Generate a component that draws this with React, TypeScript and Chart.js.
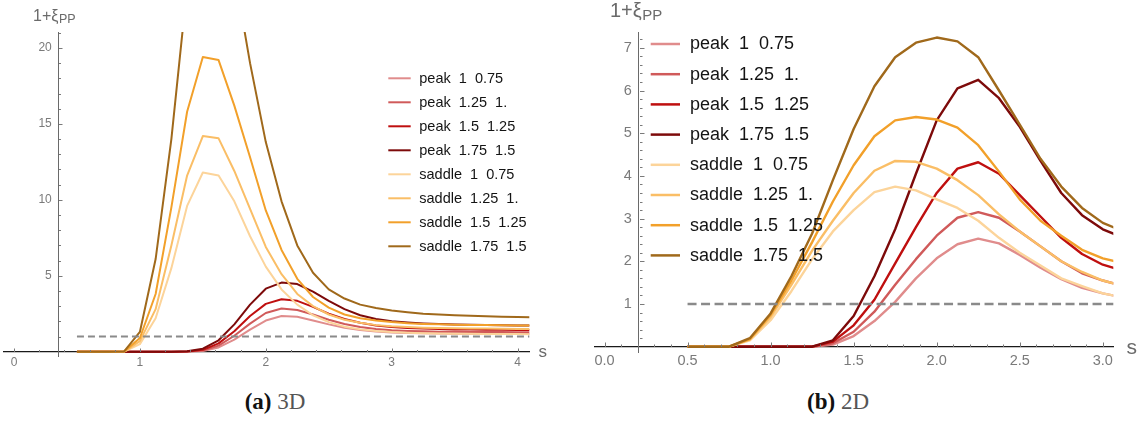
import React, { useEffect, useRef } from "react";
import { Chart, registerables } from "chart.js";

Chart.register(...registerables);

// ---------------- data ----------------
const LABELS = [
  "peak  1  0.75",
  "peak  1.25  1.",
  "peak  1.5  1.25",
  "peak  1.75  1.5",
  "saddle  1  0.75",
  "saddle  1.25  1.",
  "saddle  1.5  1.25",
  "saddle  1.75  1.5",
];

const COLORS = [
  "#e08c8c",
  "#d05a5a",
  "#bf0f0f",
  "#7d0a0a",
  "#fcd49a",
  "#fabe66",
  "#f2a02a",
  "#a0691b",
];

// 3D panel
const S_3D = [0.5, 0.625, 0.75, 0.875, 1, 1.125, 1.25, 1.375, 1.5, 1.625, 1.75, 1.875, 2, 2.125, 2.25, 2.375, 2.5, 2.625, 2.75, 2.875, 3, 3.125, 3.25, 3.375, 3.5, 3.625, 3.75, 3.875, 4, 4.125];
const PEAK_1_3D = [0, 0, 0, 0, 0, 0, 0, 0.01, 0.05, 0.28, 0.8, 1.45, 2.05, 2.35, 2.3, 2.05, 1.8, 1.58, 1.43, 1.33, 1.27, 1.23, 1.21, 1.2, 1.19, 1.18, 1.18, 1.17, 1.17, 1.17];
const PEAK_125_3D = [0, 0, 0, 0, 0, 0, 0, 0.01, 0.08, 0.4, 1.05, 1.85, 2.55, 2.85, 2.75, 2.45, 2.1, 1.82, 1.63, 1.5, 1.42, 1.37, 1.34, 1.32, 1.31, 1.3, 1.29, 1.29, 1.28, 1.28];
const PEAK_15_3D = [0, 0, 0, 0, 0, 0, 0, 0.02, 0.12, 0.55, 1.35, 2.35, 3.15, 3.45, 3.35, 2.95, 2.5, 2.15, 1.9, 1.73, 1.63, 1.56, 1.52, 1.49, 1.47, 1.46, 1.45, 1.44, 1.43, 1.43];
const PEAK_175_3D = [0, 0, 0, 0, 0, 0, 0, 0.03, 0.2, 0.75, 1.8, 3.1, 4.15, 4.55, 4.45, 3.95, 3.35, 2.8, 2.4, 2.15, 2.0, 1.92, 1.86, 1.82, 1.79, 1.77, 1.75, 1.74, 1.73, 1.72];
const SADDLE_1_3D = [0, 0, 0, 0.01, 0.5, 2.2, 5.5, 9.6, 11.8, 11.6, 9.9, 7.6, 5.6, 4.1, 3.1, 2.4, 1.95, 1.65, 1.47, 1.36, 1.29, 1.25, 1.22, 1.2, 1.19, 1.18, 1.17, 1.16, 1.16, 1.15];
const SADDLE_125_3D = [0, 0, 0, 0.01, 0.7, 2.8, 7.0, 11.6, 14.2, 14.05, 11.9, 9.4, 6.9, 5.1, 3.8, 3.0, 2.45, 2.1, 1.9, 1.75, 1.67, 1.62, 1.58, 1.56, 1.54, 1.53, 1.52, 1.51, 1.5, 1.5];
const SADDLE_15_3D = [0, 0, 0, 0.02, 0.9, 3.8, 9.5, 15.8, 19.4, 19.2, 16.2, 12.8, 9.3, 6.7, 4.8, 3.6, 2.9, 2.45, 2.2, 2.05, 1.95, 1.88, 1.83, 1.8, 1.78, 1.76, 1.75, 1.74, 1.73, 1.72];
const SADDLE_175_3D = [0, 0, 0, 0.02, 1.3, 6.1, 14, 24, 29, 29, 25, 19, 13.8, 9.9, 7.0, 5.2, 4.1, 3.5, 3.1, 2.88, 2.72, 2.6, 2.5, 2.45, 2.4, 2.37, 2.33, 2.3, 2.28, 2.27];

// 2D panel
const S_2D = [0.5, 0.625, 0.75, 0.875, 1, 1.125, 1.25, 1.375, 1.5, 1.625, 1.75, 1.875, 2, 2.125, 2.25, 2.375, 2.5, 2.625, 2.75, 2.875, 3, 3.125];
const PEAK_1_2D = [0, 0, 0, 0, 0, 0, 0, 0.05, 0.25, 0.6, 1.05, 1.6, 2.07, 2.4, 2.53, 2.42, 2.15, 1.85, 1.58, 1.38, 1.25, 1.15];
const PEAK_125_2D = [0, 0, 0, 0, 0, 0, 0, 0.08, 0.35, 0.82, 1.45, 2.05, 2.6, 3.02, 3.15, 3.02, 2.7, 2.35, 2.0, 1.72, 1.55, 1.42];
const PEAK_15_2D = [0, 0, 0, 0, 0, 0, 0, 0.12, 0.5, 1.1, 1.95, 2.8, 3.6, 4.17, 4.32, 4.05, 3.55, 3.05, 2.55, 2.17, 1.92, 1.78];
const PEAK_175_2D = [0, 0, 0, 0, 0, 0, 0, 0.15, 0.72, 1.65, 2.75, 4.05, 5.3, 6.05, 6.25, 5.82, 5.15, 4.35, 3.6, 3.08, 2.75, 2.55];
const SADDLE_1_2D = [0, 0, 0, 0.15, 0.62, 1.3, 2.05, 2.7, 3.2, 3.62, 3.75, 3.66, 3.45, 3.25, 2.95, 2.55, 2.2, 1.9, 1.6, 1.42, 1.25, 1.15];
const SADDLE_125_2D = [0, 0, 0, 0.17, 0.7, 1.45, 2.25, 2.95, 3.6, 4.12, 4.35, 4.33, 4.17, 3.9, 3.55, 3.1, 2.7, 2.35, 2.0, 1.75, 1.55, 1.42];
const SADDLE_15_2D = [0, 0, 0, 0.18, 0.75, 1.55, 2.45, 3.4, 4.25, 4.93, 5.3, 5.38, 5.32, 5.13, 4.72, 4.1, 3.45, 2.95, 2.6, 2.27, 2.07, 1.95];
const SADDLE_175_2D = [0, 0, 0, 0.2, 0.78, 1.65, 2.65, 3.9, 5.1, 6.1, 6.78, 7.12, 7.24, 7.15, 6.78, 6.0, 5.2, 4.4, 3.75, 3.25, 2.9, 2.7];

const REF_LEVEL = 1;

const X_TICKS_3D = [0, 1, 2, 3, 4];
const Y_TICKS_3D = [5, 10, 15, 20];
const X_TICKS_2D = [0, 0.5, 1, 1.5, 2, 2.5, 3];
const Y_TICKS_2D = [1, 2, 3, 4, 5, 6, 7];

// ---------------- panel configs ----------------
const SANS = '"Liberation Sans", Arial, sans-serif';
const TICK_COLOR = "#7a7a7a";
const LABEL_COLOR = "#6a6a6a";

const PANEL_A = {
  left: 0,
  width: 575,
  height: 380,
  xs: S_3D,
  series: [PEAK_1_3D, PEAK_125_3D, PEAK_15_3D, PEAK_175_3D, SADDLE_1_3D, SADDLE_125_3D, SADDLE_15_3D, SADDLE_175_3D],
  xTicks: X_TICKS_3D,
  yTicks: Y_TICKS_3D,
  xFmt: (v: number) => String(v),
  yGap: "  ",
  xMin: -0.0794,
  xMax: 4.093,
  yMin: -0.283,
  yMax: 21.05,
  area: { left: 4, top: 32, right: 529.3, bottom: 356 },
  yAxisAt: 0.353,
  tickFont: 12,
  tickPad: 4,
  lineW: 2,
  dash: [7, 4],
  dashW: 2,
  xMinor: { step: 0.2, count: 20, every: 5 },
  yMinor: { step: 1, count: 21, every: 5 },
  majorLen: 3.5,
  minorLen: 2,
  legend: { x0: 388.3, x1: 410.7, tx: 419.3, y: 78.3, dy: 24, font: 14.5, w: 2 },
  label: { x: 33, base: 21, font: 16, subFont: 12.5, subDy: 1.5 },
  sLabel: { x: 542.7, y: 352, font: 17 },
};

const PANEL_B = {
  left: 575,
  width: 571,
  height: 380,
  xs: S_2D,
  series: [PEAK_1_2D, PEAK_125_2D, PEAK_15_2D, PEAK_175_2D, SADDLE_1_2D, SADDLE_125_2D, SADDLE_15_2D, SADDLE_175_2D],
  xTicks: X_TICKS_2D,
  yTicks: Y_TICKS_2D,
  xFmt: (v: number) => v.toFixed(1),
  yGap: " \u2009",
  xMin: -0.0572,
  xMax: 3.0632,
  yMin: -0.131,
  yMax: 7.363,
  area: { left: 20, top: 32.3, right: 538.3, bottom: 352.3 },
  yAxisAt: 0.206,
  tickFont: 14.5,
  tickPad: 5.3,
  lineW: 2.4,
  dash: [9, 4.5],
  dashW: 2.5,
  xMinor: { step: 0.1, count: 30, every: 5 },
  yMinor: { step: 0.2, count: 36, every: 5 },
  majorLen: 4.5,
  minorLen: 2.5,
  legend: { x0: 75.7, x1: 105, tx: 115, y: 44, dy: 30.2, font: 18, w: 2.5 },
  label: { x: 35, base: 17, font: 20, subFont: 15, subDy: 3 },
  sLabel: { x: 556.7, y: 348.3, font: 21 },
};

function makeDecor(p: any) {
  return {
    id: "decor",
    afterDraw(chart: any) {
      const ctx = chart.ctx;
      const xs = chart.scales.x;
      const ys = chart.scales.y;
      const ax = Math.round(xs.getPixelForValue(p.yAxisAt)) + 0.5;
      const ay = Math.round(ys.getPixelForValue(0)) + 0.5;
      ctx.save();
      // tick marks (inward, Mathematica style)
      ctx.strokeStyle = TICK_COLOR;
      ctx.lineWidth = 1;
      ctx.beginPath();
      for (let i = 0; i <= p.xMinor.count; i++) {
        const t = i * p.xMinor.step;
        const px = Math.round(xs.getPixelForValue(t)) + 0.5;
        const len = i % p.xMinor.every === 0 ? p.majorLen : p.minorLen;
        ctx.moveTo(px, ay - 0.5);
        ctx.lineTo(px, ay - 0.5 - len);
      }
      for (let i = 1; i <= p.yMinor.count; i++) {
        const t = i * p.yMinor.step;
        if (t > p.yMax) break;
        const py = Math.round(ys.getPixelForValue(t)) + 0.5;
        const len = i % p.yMinor.every === 0 ? p.majorLen : p.minorLen;
        ctx.moveTo(ax + 0.5, py);
        ctx.lineTo(ax + 0.5 + len, py);
      }
      ctx.stroke();

      // legend
      const L = p.legend;
      ctx.textBaseline = "middle";
      ctx.textAlign = "left";
      ctx.font = `${L.font}px ${SANS}`;
      for (let i = 0; i < LABELS.length; i++) {
        const ds = chart.data.datasets[i];
        const y = L.y + i * L.dy;
        ctx.strokeStyle = ds.borderColor;
        ctx.lineWidth = L.w;
        ctx.beginPath();
        ctx.moveTo(L.x0, y);
        ctx.lineTo(L.x1, y);
        ctx.stroke();
        ctx.fillStyle = "#141414";
        ctx.fillText(ds.label, L.tx, y + 0.5);
      }

      // axis label 1+xi_PP
      const lb = p.label;
      ctx.fillStyle = LABEL_COLOR;
      ctx.textBaseline = "alphabetic";
      ctx.font = `${lb.font}px ${SANS}`;
      const main = "1+\u03be";
      ctx.fillText(main, lb.x, lb.base);
      const w = ctx.measureText(main).width;
      ctx.font = `${lb.subFont}px ${SANS}`;
      ctx.fillText("PP", lb.x + w + 0.5, lb.base + lb.subDy);

      // s label
      ctx.font = `${p.sLabel.font}px ${SANS}`;
      ctx.textAlign = "center";
      ctx.textBaseline = "middle";
      ctx.fillText("s", p.sLabel.x, p.sLabel.y);
      ctx.restore();
    },
  };
}

function buildConfig(p: any): any {
  const datasets: any[] = p.series.map((vals: number[], i: number) => ({
    label: LABELS[i],
    data: p.xs.map((x: number, j: number) => ({ x, y: vals[j] })),
    borderColor: COLORS[i],
    backgroundColor: COLORS[i],
    borderWidth: p.lineW,
    pointRadius: 0,
    tension: 0,
    fill: false,
    borderJoinStyle: "round",
    clip: 0,
    order: 9 - i,
  }));
  datasets.push({
    label: "reference",
    data: [
      { x: p.xs[0], y: REF_LEVEL },
      { x: p.xs[p.xs.length - 1], y: REF_LEVEL },
    ],
    borderColor: "#8a8a8a",
    borderWidth: p.dashW,
    borderDash: p.dash,
    pointRadius: 0,
    fill: false,
    clip: 0,
    order: 0,
  });
  return {
    type: "line",
    data: { datasets },
    options: {
      animation: false,
      responsive: false,
      events: [],
      layout: {
        padding: {
          left: p.area.left,
          top: p.area.top,
          right: p.width - p.area.right,
          bottom: p.height - p.area.bottom,
        },
      },
      plugins: { legend: { display: false }, tooltip: { enabled: false }, title: { display: false } },
      scales: {
        x: {
          type: "linear",
          min: p.xMin,
          max: p.xMax,
          position: { y: 0 },
          grid: { display: false, drawTicks: false },
          border: { display: true, color: "#1a1a1a", width: 1.2 },
          ticks: {
            font: { family: SANS, size: p.tickFont },
            color: TICK_COLOR,
            padding: p.tickPad,
            autoSkip: false,
            maxRotation: 0,
            callback: (v: number) => p.xFmt(v),
          },
          afterBuildTicks: (s: any) => {
            s.ticks = p.xTicks.map((v: number) => ({ value: v }));
          },
        },
        y: {
          type: "linear",
          min: p.yMin,
          max: p.yMax,
          position: { x: p.yAxisAt },
          grid: { display: false, drawTicks: false },
          border: { display: true, color: "#6a6a6a", width: 1 },
          ticks: {
            font: { family: SANS, size: p.tickFont },
            color: TICK_COLOR,
            padding: 0,
            autoSkip: false,
            callback: (v: number) => String(v) + p.yGap,
          },
          afterBuildTicks: (s: any) => {
            s.ticks = p.yTicks.map((v: number) => ({ value: v }));
          },
        },
      },
    },
    plugins: [makeDecor(p)],
  };
}

function Panel({ cfg }: { cfg: any }) {
  const ref = useRef<HTMLCanvasElement | null>(null);
  useEffect(() => {
    const chart = new Chart(ref.current as HTMLCanvasElement, buildConfig(cfg));
    return () => chart.destroy();
  }, [cfg]);
  return (
    <canvas
      ref={ref}
      width={cfg.width}
      height={cfg.height}
      style={{ position: "absolute", left: cfg.left, top: 0, width: cfg.width, height: cfg.height }}
    />
  );
}

const captionStyle: React.CSSProperties = {
  position: "absolute",
  top: 389,
  width: 200,
  textAlign: "center",
  font: '23px "Liberation Serif", "DejaVu Serif", serif',
  lineHeight: "26px",
  whiteSpace: "nowrap",
};

export default function App() {
  return (
    <div style={{ position: "absolute", left: 0, top: 0, width: 1146, height: 423, background: "#fff", overflow: "hidden" }}>
      <Panel cfg={PANEL_A} />
      <Panel cfg={PANEL_B} />
      <div style={{ ...captionStyle, left: 175 }}>
        <b style={{ color: "#111" }}>(a)</b> <span style={{ color: "#555" }}>3D</span>
      </div>
      <div style={{ ...captionStyle, left: 738 }}>
        <b style={{ color: "#111" }}>(b)</b> <span style={{ color: "#555" }}>2D</span>
      </div>
    </div>
  );
}
